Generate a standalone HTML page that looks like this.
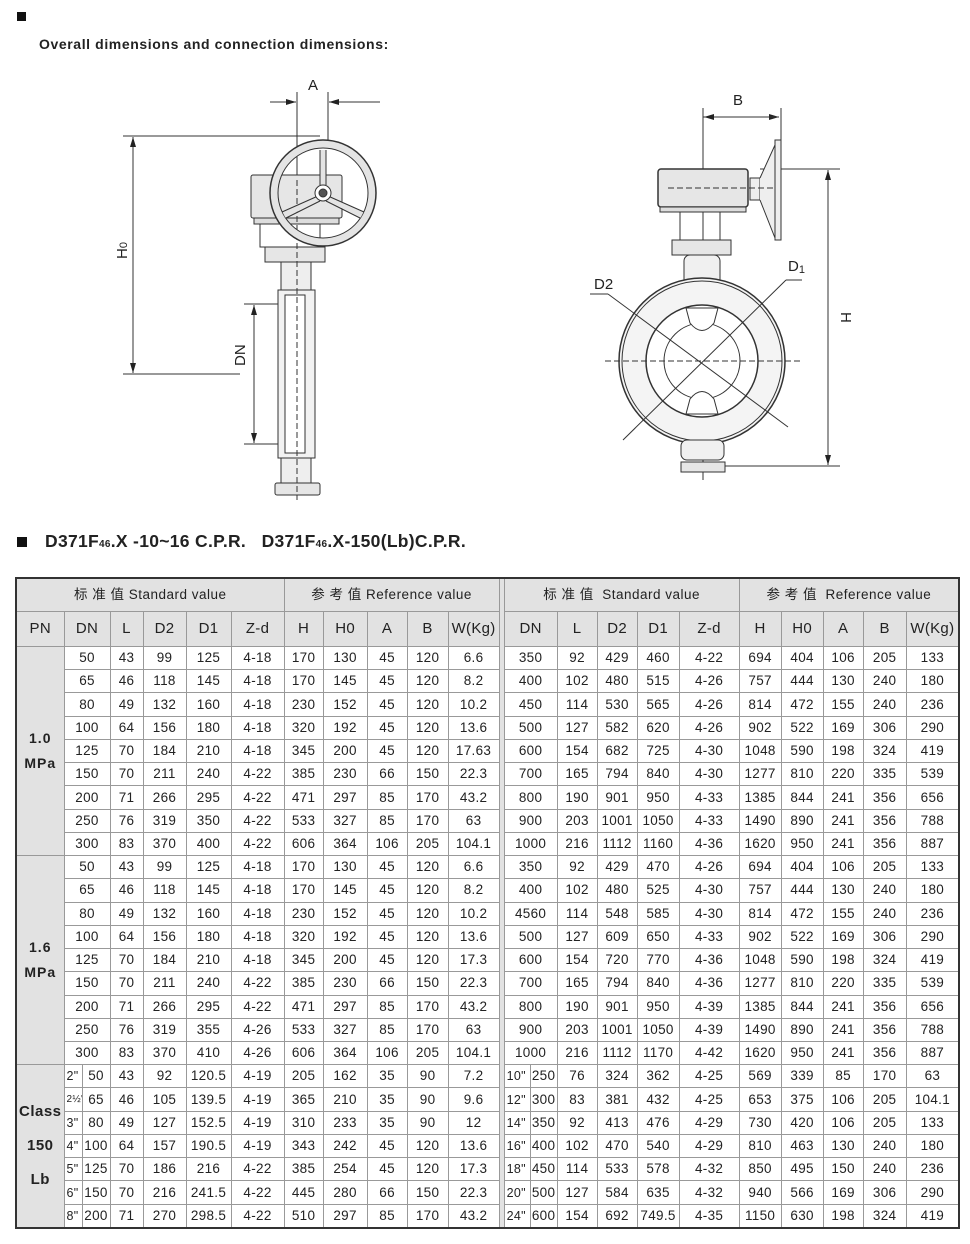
<!DOCTYPE html>
<html><head><meta charset="utf-8"><style>
body{margin:0;background:#fff;width:970px;height:1244px;position:relative;overflow:hidden;font-family:"Liberation Sans","Noto Sans CJK SC",sans-serif;color:#222}
.sq{position:absolute;background:#111}
#t1{position:absolute;left:39px;top:36px;font-size:14px;font-weight:bold;letter-spacing:0.6px}
#t2{position:absolute;left:45px;top:531px;font-size:17.5px;font-weight:bold;letter-spacing:0.3px;white-space:pre}
#t2 small{font-size:10px}
table{position:absolute;left:15px;top:577px;border-collapse:collapse;table-layout:fixed;width:943px;border:2px solid #333}
td{border:1px solid #999;padding:0;text-align:center;font-size:13.5px;height:22.24px;line-height:14px;white-space:nowrap;overflow:hidden;letter-spacing:0.3px}
tr.h1 td{height:32px;background:#e2e2e2;font-size:13.5px;letter-spacing:0.5px}
tr.h2 td{height:34px;background:#e2e2e2;font-size:15px}
td.pn{background:#e2e2e2;font-weight:bold;font-size:14px;line-height:25px;letter-spacing:1px}
td.gap{border-top:none;border-bottom:none;background:#fff}
td.i{text-align:left;padding-left:2px;font-size:12.5px}
</style></head><body>
<div class="sq" style="left:17px;top:12px;width:9px;height:9px"></div>
<div id="t1">Overall dimensions and connection dimensions:</div>
<div class="sq" style="left:17px;top:537px;width:10px;height:10px"></div>
<div id="t2">D371F<small>46</small>.X -10~16 C.P.R.   D371F<small>46</small>.X-150(Lb)C.P.R.</div>

<svg width="970" height="520" style="position:absolute;left:0;top:0" fill="none" stroke="#333" stroke-width="1">
<defs><marker id="ar" markerWidth="10" markerHeight="6" refX="10" refY="3" orient="auto" markerUnits="userSpaceOnUse"><path d="M0,0 L10,3 L0,6z" fill="#222" stroke="none"/></marker></defs>
<g font-family="Liberation Sans" font-size="15" fill="#222" stroke="none">
<text x="308" y="90">A</text>
<text x="733" y="105">B</text>
<text x="788" y="271">D<tspan font-size="11" dy="2">1</tspan></text>
<text x="594" y="289">D2</text>
<text transform="translate(127,259) rotate(-90)">H<tspan font-size="11">0</tspan></text>
<text transform="translate(245,366) rotate(-90)">DN</text>
<text transform="translate(841,312) rotate(90)">H</text>
</g>
<line x1="270" y1="102" x2="296" y2="102" marker-end="url(#ar)"/>
<line x1="380" y1="102" x2="329" y2="102" marker-end="url(#ar)"/>
<line x1="297" y1="92" x2="297" y2="180"/>
<line x1="328" y1="92" x2="328" y2="140"/>
<line x1="123" y1="136" x2="320" y2="136"/>
<line x1="123" y1="374" x2="240" y2="374"/>
<line x1="133" y1="150" x2="133" y2="137" marker-end="url(#ar)"/>
<line x1="133" y1="360" x2="133" y2="373" marker-end="url(#ar)"/>
<line x1="133" y1="150" x2="133" y2="360"/>
<line x1="244" y1="304" x2="280" y2="304"/>
<line x1="244" y1="444" x2="280" y2="444"/>
<line x1="254" y1="320" x2="254" y2="305" marker-end="url(#ar)"/>
<line x1="254" y1="430" x2="254" y2="443" marker-end="url(#ar)"/>
<line x1="254" y1="320" x2="254" y2="430"/>
<rect x="251" y="175" width="91" height="43" rx="2" fill="#e6e6e6"/>
<rect x="254" y="218" width="85" height="6" fill="#ddd"/>
<rect x="260" y="224" width="60" height="23"/>
<rect x="265" y="247" width="60" height="15" fill="#e6e6e6"/>
<rect x="281" y="262" width="30" height="28" fill="#eee"/>
<rect x="278" y="290" width="37" height="168" fill="#f2f2f2"/>
<rect x="285" y="295" width="20" height="158" fill="#fff"/>
<rect x="281" y="458" width="30" height="25" fill="#eee"/>
<rect x="275" y="483" width="45" height="12" rx="2" fill="#e6e6e6"/>
<line x1="297" y1="180" x2="297" y2="500" stroke-dasharray="6,3"/>
<circle cx="323" cy="193" r="49" stroke="#e4e4e4" stroke-width="8"/>
<circle cx="323" cy="193" r="53" stroke-width="1.5"/>
<circle cx="323" cy="193" r="45"/>
<path d="M323,150 L323,185 M318,198 L284,215 M328,198 L362,215" stroke="#e4e4e4" stroke-width="6"/>
<path d="M320,150 L320,185 M326,150 L326,185 M318,196 L282,212 M320,201 L286,218 M328,196 L364,212 M326,201 L360,218"/>
<circle cx="323" cy="193" r="8" fill="#fff"/>
<circle cx="323" cy="193" r="4" fill="#555"/>
<line x1="703" y1="117" x2="779" y2="117" marker-end="url(#ar)"/>
<line x1="779" y1="117" x2="704" y2="117" marker-end="url(#ar)"/>
<line x1="703" y1="108" x2="703" y2="480"/>
<line x1="781" y1="108" x2="781" y2="145"/>
<line x1="760" y1="169" x2="840" y2="169"/>
<line x1="720" y1="466" x2="840" y2="466"/>
<line x1="828" y1="190" x2="828" y2="170" marker-end="url(#ar)"/>
<line x1="828" y1="445" x2="828" y2="465" marker-end="url(#ar)"/>
<line x1="828" y1="190" x2="828" y2="445"/>
<rect x="658" y="169" width="90" height="38" rx="3" stroke-width="1.5" fill="#e6e6e6"/>
<rect x="660" y="207" width="86" height="5" fill="#ddd"/>
<rect x="750" y="178" width="10" height="22" fill="#eee"/>
<path d="M760,178 L775,145 L775,238 L760,200 M775,140 L781,140 L781,240 L775,240z" fill="#eee"/>
<line x1="668" y1="188" x2="776" y2="188" stroke-dasharray="6,3"/>
<rect x="680" y="212" width="40" height="28"/>
<rect x="672" y="240" width="59" height="15" fill="#e6e6e6"/>
<rect x="684" y="255" width="36" height="30" rx="6" fill="#f0f0f0"/>
<circle cx="702" cy="361" r="83" stroke-width="1.5" fill="#f4f4f4"/>
<circle cx="702" cy="361" r="80"/>
<circle cx="702" cy="361" r="56" stroke-width="1.5" fill="#fff"/>
<circle cx="702" cy="361" r="38"/>
<path d="M686,308 L718,308 L714,323 Q702,338 690,323z M686,414 L718,414 L714,399 Q702,384 690,399z" fill="#fff"/>
<line x1="605" y1="361" x2="800" y2="361" stroke-dasharray="6,3"/>
<line x1="608" y1="294" x2="788" y2="427"/>
<line x1="623" y1="440" x2="786" y2="280"/>
<line x1="786" y1="280" x2="802" y2="280"/>
<line x1="590" y1="294" x2="608" y2="294"/>
<rect x="681" y="440" width="43" height="20" rx="6" fill="#f0f0f0"/>
<rect x="681" y="462" width="44" height="10" fill="#e6e6e6"/>
</svg>

<table>
<colgroup><col style="width:48px"><col style="width:18px"><col style="width:28px"><col style="width:33px"><col style="width:43px"><col style="width:45px"><col style="width:53px"><col style="width:39px"><col style="width:44px"><col style="width:40px"><col style="width:41px"><col style="width:51px"><col style="width:5px"><col style="width:26px"><col style="width:27px"><col style="width:40px"><col style="width:40px"><col style="width:42px"><col style="width:60px"><col style="width:42px"><col style="width:42px"><col style="width:40px"><col style="width:43px"><col style="width:53px"></colgroup>
<tr class="h1"><td colspan="7">标 准 值 Standard value</td><td colspan="5">参 考 值 Reference value</td><td class="gap" rowspan="27"></td><td colspan="6">标 准 值&nbsp; Standard value</td><td colspan="5">参 考 值&nbsp; Reference value</td></tr>
<tr class="h2"><td>PN</td><td colspan="2">DN</td><td>L</td><td>D2</td><td>D1</td><td>Z-d</td><td>H</td><td>H0</td><td>A</td><td>B</td><td>W(Kg)</td><td colspan="2">DN</td><td>L</td><td>D2</td><td>D1</td><td>Z-d</td><td>H</td><td>H0</td><td>A</td><td>B</td><td>W(Kg)</td></tr>
<tr><td class="pn" rowspan="9">1.0<br>MPa</td><td colspan="2">50</td><td>43</td><td>99</td><td>125</td><td>4-18</td><td>170</td><td>130</td><td>45</td><td>120</td><td>6.6</td><td colspan="2">350</td><td>92</td><td>429</td><td>460</td><td>4-22</td><td>694</td><td>404</td><td>106</td><td>205</td><td>133</td></tr>
<tr><td colspan="2">65</td><td>46</td><td>118</td><td>145</td><td>4-18</td><td>170</td><td>145</td><td>45</td><td>120</td><td>8.2</td><td colspan="2">400</td><td>102</td><td>480</td><td>515</td><td>4-26</td><td>757</td><td>444</td><td>130</td><td>240</td><td>180</td></tr>
<tr><td colspan="2">80</td><td>49</td><td>132</td><td>160</td><td>4-18</td><td>230</td><td>152</td><td>45</td><td>120</td><td>10.2</td><td colspan="2">450</td><td>114</td><td>530</td><td>565</td><td>4-26</td><td>814</td><td>472</td><td>155</td><td>240</td><td>236</td></tr>
<tr><td colspan="2">100</td><td>64</td><td>156</td><td>180</td><td>4-18</td><td>320</td><td>192</td><td>45</td><td>120</td><td>13.6</td><td colspan="2">500</td><td>127</td><td>582</td><td>620</td><td>4-26</td><td>902</td><td>522</td><td>169</td><td>306</td><td>290</td></tr>
<tr><td colspan="2">125</td><td>70</td><td>184</td><td>210</td><td>4-18</td><td>345</td><td>200</td><td>45</td><td>120</td><td>17.63</td><td colspan="2">600</td><td>154</td><td>682</td><td>725</td><td>4-30</td><td>1048</td><td>590</td><td>198</td><td>324</td><td>419</td></tr>
<tr><td colspan="2">150</td><td>70</td><td>211</td><td>240</td><td>4-22</td><td>385</td><td>230</td><td>66</td><td>150</td><td>22.3</td><td colspan="2">700</td><td>165</td><td>794</td><td>840</td><td>4-30</td><td>1277</td><td>810</td><td>220</td><td>335</td><td>539</td></tr>
<tr><td colspan="2">200</td><td>71</td><td>266</td><td>295</td><td>4-22</td><td>471</td><td>297</td><td>85</td><td>170</td><td>43.2</td><td colspan="2">800</td><td>190</td><td>901</td><td>950</td><td>4-33</td><td>1385</td><td>844</td><td>241</td><td>356</td><td>656</td></tr>
<tr><td colspan="2">250</td><td>76</td><td>319</td><td>350</td><td>4-22</td><td>533</td><td>327</td><td>85</td><td>170</td><td>63</td><td colspan="2">900</td><td>203</td><td>1001</td><td>1050</td><td>4-33</td><td>1490</td><td>890</td><td>241</td><td>356</td><td>788</td></tr>
<tr><td colspan="2">300</td><td>83</td><td>370</td><td>400</td><td>4-22</td><td>606</td><td>364</td><td>106</td><td>205</td><td>104.1</td><td colspan="2">1000</td><td>216</td><td>1112</td><td>1160</td><td>4-36</td><td>1620</td><td>950</td><td>241</td><td>356</td><td>887</td></tr>
<tr><td class="pn" rowspan="9">1.6<br>MPa</td><td colspan="2">50</td><td>43</td><td>99</td><td>125</td><td>4-18</td><td>170</td><td>130</td><td>45</td><td>120</td><td>6.6</td><td colspan="2">350</td><td>92</td><td>429</td><td>470</td><td>4-26</td><td>694</td><td>404</td><td>106</td><td>205</td><td>133</td></tr>
<tr><td colspan="2">65</td><td>46</td><td>118</td><td>145</td><td>4-18</td><td>170</td><td>145</td><td>45</td><td>120</td><td>8.2</td><td colspan="2">400</td><td>102</td><td>480</td><td>525</td><td>4-30</td><td>757</td><td>444</td><td>130</td><td>240</td><td>180</td></tr>
<tr><td colspan="2">80</td><td>49</td><td>132</td><td>160</td><td>4-18</td><td>230</td><td>152</td><td>45</td><td>120</td><td>10.2</td><td colspan="2">4560</td><td>114</td><td>548</td><td>585</td><td>4-30</td><td>814</td><td>472</td><td>155</td><td>240</td><td>236</td></tr>
<tr><td colspan="2">100</td><td>64</td><td>156</td><td>180</td><td>4-18</td><td>320</td><td>192</td><td>45</td><td>120</td><td>13.6</td><td colspan="2">500</td><td>127</td><td>609</td><td>650</td><td>4-33</td><td>902</td><td>522</td><td>169</td><td>306</td><td>290</td></tr>
<tr><td colspan="2">125</td><td>70</td><td>184</td><td>210</td><td>4-18</td><td>345</td><td>200</td><td>45</td><td>120</td><td>17.3</td><td colspan="2">600</td><td>154</td><td>720</td><td>770</td><td>4-36</td><td>1048</td><td>590</td><td>198</td><td>324</td><td>419</td></tr>
<tr><td colspan="2">150</td><td>70</td><td>211</td><td>240</td><td>4-22</td><td>385</td><td>230</td><td>66</td><td>150</td><td>22.3</td><td colspan="2">700</td><td>165</td><td>794</td><td>840</td><td>4-36</td><td>1277</td><td>810</td><td>220</td><td>335</td><td>539</td></tr>
<tr><td colspan="2">200</td><td>71</td><td>266</td><td>295</td><td>4-22</td><td>471</td><td>297</td><td>85</td><td>170</td><td>43.2</td><td colspan="2">800</td><td>190</td><td>901</td><td>950</td><td>4-39</td><td>1385</td><td>844</td><td>241</td><td>356</td><td>656</td></tr>
<tr><td colspan="2">250</td><td>76</td><td>319</td><td>355</td><td>4-26</td><td>533</td><td>327</td><td>85</td><td>170</td><td>63</td><td colspan="2">900</td><td>203</td><td>1001</td><td>1050</td><td>4-39</td><td>1490</td><td>890</td><td>241</td><td>356</td><td>788</td></tr>
<tr><td colspan="2">300</td><td>83</td><td>370</td><td>410</td><td>4-26</td><td>606</td><td>364</td><td>106</td><td>205</td><td>104.1</td><td colspan="2">1000</td><td>216</td><td>1112</td><td>1170</td><td>4-42</td><td>1620</td><td>950</td><td>241</td><td>356</td><td>887</td></tr>
<tr><td class="pn" rowspan="7" style="line-height:34px;font-size:15px;letter-spacing:0.5px">Class<br>150<br>Lb</td><td class="i">2"</td><td>50</td><td>43</td><td>92</td><td>120.5</td><td>4-19</td><td>205</td><td>162</td><td>35</td><td>90</td><td>7.2</td><td class="i">10"</td><td>250</td><td>76</td><td>324</td><td>362</td><td>4-25</td><td>569</td><td>339</td><td>85</td><td>170</td><td>63</td></tr>
<tr><td class="i" style="font-size:10px">2½"</td><td>65</td><td>46</td><td>105</td><td>139.5</td><td>4-19</td><td>365</td><td>210</td><td>35</td><td>90</td><td>9.6</td><td class="i">12"</td><td>300</td><td>83</td><td>381</td><td>432</td><td>4-25</td><td>653</td><td>375</td><td>106</td><td>205</td><td>104.1</td></tr>
<tr><td class="i">3"</td><td>80</td><td>49</td><td>127</td><td>152.5</td><td>4-19</td><td>310</td><td>233</td><td>35</td><td>90</td><td>12</td><td class="i">14"</td><td>350</td><td>92</td><td>413</td><td>476</td><td>4-29</td><td>730</td><td>420</td><td>106</td><td>205</td><td>133</td></tr>
<tr><td class="i">4"</td><td>100</td><td>64</td><td>157</td><td>190.5</td><td>4-19</td><td>343</td><td>242</td><td>45</td><td>120</td><td>13.6</td><td class="i">16"</td><td>400</td><td>102</td><td>470</td><td>540</td><td>4-29</td><td>810</td><td>463</td><td>130</td><td>240</td><td>180</td></tr>
<tr><td class="i">5"</td><td>125</td><td>70</td><td>186</td><td>216</td><td>4-22</td><td>385</td><td>254</td><td>45</td><td>120</td><td>17.3</td><td class="i">18"</td><td>450</td><td>114</td><td>533</td><td>578</td><td>4-32</td><td>850</td><td>495</td><td>150</td><td>240</td><td>236</td></tr>
<tr><td class="i">6"</td><td>150</td><td>70</td><td>216</td><td>241.5</td><td>4-22</td><td>445</td><td>280</td><td>66</td><td>150</td><td>22.3</td><td class="i">20"</td><td>500</td><td>127</td><td>584</td><td>635</td><td>4-32</td><td>940</td><td>566</td><td>169</td><td>306</td><td>290</td></tr>
<tr><td class="i">8"</td><td>200</td><td>71</td><td>270</td><td>298.5</td><td>4-22</td><td>510</td><td>297</td><td>85</td><td>170</td><td>43.2</td><td class="i">24"</td><td>600</td><td>154</td><td>692</td><td>749.5</td><td>4-35</td><td>1150</td><td>630</td><td>198</td><td>324</td><td>419</td></tr>
</table>
</body></html>
